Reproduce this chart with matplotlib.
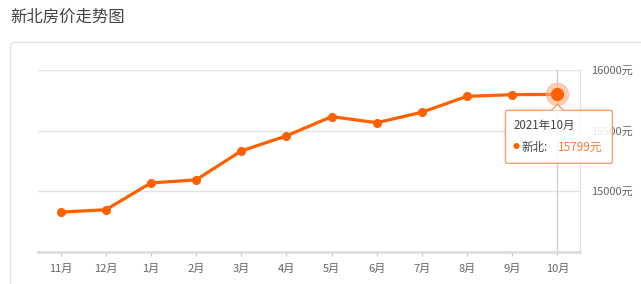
import matplotlib
matplotlib.use("Agg")
import matplotlib.pyplot as plt
from matplotlib.patches import FancyBboxPatch, Polygon
from matplotlib.transforms import IdentityTransform

plt.rcParams['font.family'] = ['Noto Sans CJK SC', 'DejaVu Sans']

# data
months = ["11月", "12月", "1月", "2月", "3月", "4月", "5月", "6月", "7月", "8月", "9月", "10月"]
prices = [14827, 14846, 15068, 15093, 15332, 15456, 15615, 15565, 15651, 15783, 15796, 15799]
yticks = [15000, 15500, 16000]
title = "新北房价走势图"
tip_date = "2021年10月"
tip_name = "新北:"

orange = "#ff6100"
W, H = 641, 284
fig = plt.figure(figsize=(W / 100, H / 100), dpi=100)
fig.patch.set_facecolor("white")

# card border (display coords, origin bottom-left)
card = FancyBboxPatch((10.5, H - 42.5 - 300), 660, 300, boxstyle="round,pad=0,rounding_size=4",
                      transform=IdentityTransform(), facecolor="none",
                      edgecolor="#e3e3e3", linewidth=1, zorder=0)
fig.patches.append(card)

fig.text(10 / W, 1 - 17 / H, title, fontsize=11.8, color="#444444", va="center", ha="left")

ax = fig.add_axes([38 / W, (H - 251.7) / H, 542 / W, 181.7 / H])
x = list(range(len(months)))
ax.plot(x, prices, color=orange, linewidth=2.3, marker="o", markersize=5.5, zorder=3,
        solid_capstyle="round")
ax.plot(x[-1], prices[-1], "o", color="#ffb489", markersize=16, alpha=0.6, zorder=4)
ax.plot(x[-1], prices[-1], "o", color=orange, markersize=8.5, zorder=5)
ax.axvline(x[-1], color="#cfcfcf", linewidth=1, zorder=1)

ax.set_xlim(-0.5, len(months) - 0.5)
ax.set_ylim(14500, 16000)
ax.set_xticks(x)
ax.set_xticklabels(months)
ax.set_yticks(yticks)
ax.set_yticklabels([f"{v}元" for v in yticks])
ax.yaxis.tick_right()
ax.grid(axis="y", color="#e3e3e3", linewidth=1)
ax.set_axisbelow(True)
ax.tick_params(axis="y", length=0, pad=8, labelsize=8, labelcolor="#666666")
ax.tick_params(axis="x", length=3, color="#cccccc", pad=6, labelsize=8, labelcolor="#666666")
for s in ["left", "top"]:
    ax.spines[s].set_visible(False)
ax.spines["right"].set_color("#e3e3e3")
ax.spines["bottom"].set_color("#dddddd")
ax.spines["bottom"].set_linewidth(2)

# tooltip anchored to the last point
px, py = ax.transData.transform((x[-1], prices[-1]))
bx0, by_top, bw, bh = px - 52, py - 16, 107, 53
box = FancyBboxPatch((bx0, by_top - bh), bw, bh, boxstyle="round,pad=0,rounding_size=2",
                     transform=IdentityTransform(), facecolor=(1, 1, 1, 0.88),
                     edgecolor="#f3a26e", linewidth=1, zorder=5)
fig.patches.append(box)
tri = Polygon([(px - 6, by_top), (px, by_top + 6), (px + 6, by_top)], closed=False,
              transform=IdentityTransform(), facecolor="white", edgecolor="#f3a26e",
              linewidth=1, zorder=6)
fig.patches.append(tri)
fig.text((bx0 + 8) / W, (by_top - 15) / H, tip_date, fontsize=8.3, color="#444444",
         va="center", ha="left", zorder=7)
fig.text((bx0 + 7) / W, (by_top - 37) / H, "●", fontsize=5, color=orange,
         va="center", ha="left", zorder=7)
fig.text((bx0 + 16) / W, (by_top - 37) / H, tip_name, fontsize=8.3, color="#444444",
         va="center", ha="left", zorder=7)
fig.text((bx0 + 53) / W, (by_top - 37) / H, f"{prices[-1]}元", fontsize=8.5, color="#ff7a33",
         va="center", ha="left", zorder=7)

fig.savefig("out.png", dpi=100)
